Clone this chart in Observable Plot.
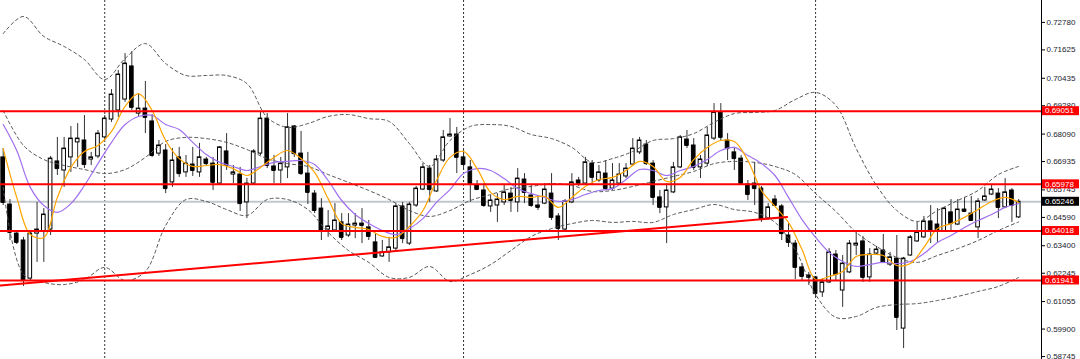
<!DOCTYPE html>
<html><head><meta charset="utf-8">
<script src="https://cdn.jsdelivr.net/npm/d3@7"></script>
<script src="https://cdn.jsdelivr.net/npm/@observablehq/plot@0.6"></script>
<style>html,body{margin:0;padding:0;background:#fff} svg{display:block}</style>
</head><body><div id="chart"></div>
<script>
// Weekly candles (price values)
const opens = [0.6711,0.6513,0.6391,0.6362,0.6202,0.6391,0.6400,0.6408,0.6694,0.6656, 0.6711,0.6774,0.6782,0.6702,0.6715,0.6795,0.6870,0.6908,0.6954,0.7093, 0.6895,0.6916,0.6862,0.6727,0.6740,0.6606,0.6711,0.6648,0.6681,0.6648, 0.6702,0.6685,0.6601,0.6736,0.6639,0.6639,0.6522,0.6601,0.6727,0.6874, 0.6673,0.6656,0.6669,0.6841,0.6727,0.6643,0.6559,0.6496,0.6408,0.6404, 0.6438,0.6383,0.6425,0.6433,0.6417,0.6354,0.6295,0.6312,0.6328,0.6505, 0.6349,0.6509,0.6576,0.6664,0.6568,0.6698,0.6799,0.6807,0.6711,0.6669, 0.6593,0.6572,0.6505,0.6509,0.6522,0.6559,0.6522,0.6618,0.6551,0.6509, 0.6517,0.6559,0.6463,0.6408,0.6522,0.6614,0.6601,0.6685,0.6614,0.6643, 0.6580,0.6601,0.6631,0.6681,0.6732,0.6765,0.6685,0.6543,0.6501,0.6564, 0.6669,0.6786,0.6761,0.6669,0.6685,0.6790,0.6900,0.6782,0.6732,0.6706, 0.6597,0.6601,0.6580,0.6454,0.6534,0.6505,0.6383,0.6349,0.6249,0.6215, 0.6207,0.6144,0.6186,0.6303,0.6152,0.6228,0.6341,0.6358,0.6207,0.6307, 0.6320,0.6261,0.6286,0.5992,0.6299,0.6358,0.6375,0.6442,0.6429,0.6400, 0.6480,0.6429,0.6492,0.6475,0.6417,0.6530,0.6555,0.6559,0.6501,0.6572, 0.6459];
const highs = [0.6748,0.6534,0.6400,0.6375,0.6400,0.6522,0.6496,0.6715,0.6795,0.6795, 0.6841,0.6853,0.6887,0.6732,0.6824,0.6887,0.6996,0.7076,0.7147,0.7156, 0.6979,0.7030,0.6891,0.6782,0.6765,0.6748,0.6753,0.6719,0.6753,0.6770, 0.6711,0.6711,0.6757,0.6811,0.6677,0.6669,0.6623,0.6744,0.6900,0.6895, 0.6719,0.6711,0.6895,0.6845,0.6820,0.6732,0.6572,0.6538,0.6488,0.6517, 0.6475,0.6475,0.6475,0.6496,0.6446,0.6391,0.6362,0.6375,0.6517,0.6522, 0.6522,0.6589,0.6685,0.6677,0.6719,0.6824,0.6874,0.6837,0.6740,0.6698, 0.6614,0.6593,0.6551,0.6559,0.6593,0.6585,0.6664,0.6643,0.6593,0.6543, 0.6601,0.6643,0.6475,0.6534,0.6643,0.6627,0.6711,0.6698,0.6677,0.6698, 0.6685,0.6685,0.6685,0.6790,0.6795,0.6782,0.6698,0.6572,0.6601,0.6690, 0.6803,0.6824,0.6790,0.6719,0.6837,0.6937,0.6937,0.6811,0.6753,0.6719, 0.6614,0.6690,0.6589,0.6517,0.6551,0.6513,0.6433,0.6362,0.6265,0.6228, 0.6211,0.6202,0.6328,0.6320,0.6299,0.6362,0.6404,0.6379,0.6328,0.6337, 0.6387,0.6312,0.6383,0.6291,0.6383,0.6438,0.6463,0.6509,0.6496,0.6501, 0.6534,0.6534,0.6543,0.6547,0.6538,0.6585,0.6593,0.6580,0.6622,0.6580, 0.6534];
const lows = [0.6509,0.6362,0.6345,0.6169,0.6198,0.6270,0.6270,0.6383,0.6635,0.6585, 0.6648,0.6669,0.6664,0.6677,0.6706,0.6782,0.6858,0.6879,0.6942,0.6908, 0.6883,0.6811,0.6711,0.6715,0.6559,0.6585,0.6627,0.6627,0.6631,0.6627, 0.6677,0.6572,0.6597,0.6656,0.6601,0.6484,0.6454,0.6593,0.6719,0.6664, 0.6601,0.6601,0.6622,0.6711,0.6635,0.6513,0.6475,0.6362,0.6375,0.6396, 0.6362,0.6375,0.6370,0.6349,0.6362,0.6286,0.6291,0.6270,0.6320,0.6349, 0.6341,0.6501,0.6572,0.6522,0.6564,0.6690,0.6795,0.6643,0.6656,0.6522, 0.6572,0.6501,0.6480,0.6438,0.6509,0.6480,0.6480,0.6517,0.6501,0.6488, 0.6513,0.6446,0.6362,0.6400,0.6517,0.6589,0.6593,0.6593,0.6606,0.6572, 0.6572,0.6593,0.6622,0.6673,0.6723,0.6677,0.6509,0.6475,0.6349,0.6559, 0.6664,0.6748,0.6656,0.6622,0.6673,0.6782,0.6782,0.6698,0.6656,0.6593, 0.6530,0.6509,0.6438,0.6446,0.6505,0.6362,0.6333,0.6198,0.6194,0.6173, 0.6123,0.6123,0.6181,0.6194,0.6081,0.6223,0.6299,0.6186,0.6186,0.6299, 0.6265,0.6253,0.5984,0.5908,0.6295,0.6354,0.6370,0.6349,0.6354,0.6396, 0.6404,0.6425,0.6480,0.6442,0.6370,0.6526,0.6551,0.6454,0.6496,0.6438, 0.6454];
const closes = [0.6522,0.6396,0.6354,0.6194,0.6391,0.6408,0.6471,0.6706,0.6664,0.6748, 0.6790,0.6790,0.6681,0.6711,0.6811,0.6874,0.6975,0.7059,0.7105,0.6921, 0.6916,0.6879,0.6719,0.6761,0.6580,0.6698,0.6643,0.6685,0.6656,0.6711, 0.6685,0.6606,0.6753,0.6677,0.6648,0.6517,0.6601,0.6736,0.6874,0.6677, 0.6656,0.6685,0.6837,0.6727,0.6643,0.6564,0.6488,0.6404,0.6421,0.6446, 0.6375,0.6429,0.6433,0.6425,0.6379,0.6291,0.6312,0.6333,0.6505,0.6370, 0.6513,0.6580,0.6669,0.6576,0.6702,0.6795,0.6807,0.6711,0.6681,0.6601, 0.6576,0.6509,0.6530,0.6534,0.6564,0.6530,0.6622,0.6564,0.6509,0.6501, 0.6576,0.6459,0.6412,0.6526,0.6606,0.6601,0.6690,0.6627,0.6648,0.6580, 0.6614,0.6639,0.6664,0.6748,0.6782,0.6685,0.6543,0.6501,0.6572,0.6669, 0.6795,0.6761,0.6669,0.6702,0.6803,0.6900,0.6795,0.6748,0.6706,0.6601, 0.6555,0.6580,0.6454,0.6501,0.6509,0.6391,0.6354,0.6249,0.6211,0.6207, 0.6139,0.6186,0.6312,0.6219,0.6265,0.6349,0.6349,0.6207,0.6303,0.6324, 0.6270,0.6291,0.6039,0.6286,0.6375,0.6396,0.6442,0.6400,0.6404,0.6496, 0.6433,0.6492,0.6484,0.6446,0.6526,0.6547,0.6576,0.6501,0.6564,0.6509, 0.65246];

// Moving averages (every 2nd bar)
const maBars = [0,2,4,6,8,10,12,14,16,18,20,22,24,26,28,30,32,34,36,38,40,42,44,46,48,50,52,54,56,58,60,62,64,66,68,70,72,74,76,78,80,82,84,86,88,90,92,94,96,98,100,102,104,106,108,110,112,114,116,118,120,122,124,126,128,130,132,134,136,138,140,142,144,146,148,150];
const maFast = [0.6748,0.6543,0.6387,0.6375,0.6543,0.6669,0.6736,0.6761,0.6820,0.6925, 0.6979,0.6908,0.6782,0.6706,0.6673,0.6677,0.6681,0.6664,0.6635,0.6669, 0.6711,0.6740,0.6706,0.6648,0.6538,0.6433,0.6417,0.6408,0.6379,0.6375, 0.6421,0.6488,0.6614,0.6711,0.6736,0.6664,0.6564,0.6534,0.6547,0.6543, 0.6547,0.6501,0.6543,0.6589,0.6618,0.6627,0.6656,0.6694,0.6673,0.6610, 0.6627,0.6702,0.6753,0.6782,0.6778,0.6698,0.6572,0.6505,0.6438,0.6324, 0.6198,0.6211,0.6232,0.6295,0.6303,0.6299,0.6257,0.6265,0.6333,0.6412, 0.6433,0.6459,0.6492,0.6526,0.6543,0.6522];
const maSlow = [0.6849,0.6740,0.6585,0.6509,0.6480,0.6517,0.6593,0.6685,0.6774,0.6849, 0.6883,0.6887,0.6849,0.6828,0.6774,0.6723,0.6690,0.6673,0.6656,0.6673, 0.6690,0.6694,0.6698,0.6681,0.6614,0.6530,0.6471,0.6433,0.6404,0.6387, 0.6412,0.6454,0.6522,0.6576,0.6643,0.6664,0.6656,0.6622,0.6580,0.6559, 0.6543,0.6526,0.6534,0.6555,0.6572,0.6580,0.6618,0.6660,0.6656,0.6635, 0.6656,0.6673,0.6702,0.6740,0.6753,0.6719,0.6685,0.6635,0.6543,0.6450, 0.6375,0.6312,0.6274,0.6253,0.6261,0.6270,0.6265,0.6274,0.6307,0.6354, 0.6383,0.6417,0.6446,0.6471,0.6501,0.6517];

// Bollinger bands (every 3rd bar)
const bbBars = [0,3,6,9,12,15,18,21,24,27,30,33,36,39,42,45,48,51,54,57,60,63,66,69,72,75,78,81,84,87,90,93,96,99,102,105,108,111,114,117,120,123,126,129,132,135,138,141,144,147,150];
const bbUpper = [0.7231,0.7303,0.7219,0.7177,0.7122,0.7038,0.7126,0.7189,0.7105,0.7055, 0.7055,0.7055,0.7021,0.6879,0.6837,0.6853,0.6883,0.6891,0.6874,0.6862, 0.6769,0.6673,0.6782,0.6841,0.6849,0.6841,0.6807,0.6790,0.6753,0.6690, 0.6706,0.6736,0.6782,0.6790,0.6811,0.6858,0.6895,0.6900,0.6908,0.6954, 0.6984,0.6929,0.6748,0.6593,0.6488,0.6442,0.6488,0.6530,0.6572,0.6639, 0.6673];
const bbMiddle = [0.6908,0.6761,0.6702,0.6677,0.6660,0.6643,0.6660,0.6711,0.6778,0.6795, 0.6790,0.6774,0.6744,0.6706,0.6685,0.6673,0.6639,0.6606,0.6572,0.6534, 0.6488,0.6463,0.6488,0.6530,0.6555,0.6580,0.6589,0.6601,0.6593,0.6568, 0.6572,0.6589,0.6610,0.6631,0.6652,0.6685,0.6694,0.6690,0.6673,0.6639, 0.6559,0.6484,0.6396,0.6337,0.6291,0.6270,0.6299,0.6328,0.6362,0.6404, 0.6440];
const bbLower = [0.6585,0.6219,0.6186,0.6177,0.6198,0.6249,0.6194,0.6232,0.6425,0.6534, 0.6526,0.6492,0.6467,0.6534,0.6534,0.6492,0.6396,0.6320,0.6270,0.6207, 0.6207,0.6253,0.6190,0.6219,0.6261,0.6320,0.6379,0.6412,0.6433,0.6446, 0.6438,0.6442,0.6438,0.6471,0.6492,0.6513,0.6492,0.6480,0.6438,0.6324, 0.6135,0.6039,0.6043,0.6081,0.6093,0.6097,0.6110,0.6127,0.6148,0.6169, 0.6207];

// Drawn objects
const levels = [0.69051, 0.65978, 0.64018, 0.61941];
const currentPrice = 0.65246;
const yearSeparators = [15, 68, 120];
const trendBars = [-0.4, 115.8];
const trendPrices = [0.6173, 0.6461];
const tickLabels = ["0.72780","0.71625","0.70435","0.69280","0.68090","0.66935","0.65745","0.64590","0.63400","0.62245","0.61055","0.59900","0.58745"];

const candles = opens.map((o, i) => ({i, open: o, high: highs[i], low: lows[i], close: closes[i]}));
const fast = maBars.map((b, k) => ({i: b, v: maFast[k]}));
const slow = maBars.map((b, k) => ({i: b, v: maSlow[k]}));
const up = bbBars.map((b, k) => ({i: b, v: bbUpper[k]}));
const mid = bbBars.map((b, k) => ({i: b, v: bbMiddle[k]}));
const lo = bbBars.map((b, k) => ({i: b, v: bbLower[k]}));
const trend = trendBars.map((b, k) => ({i: b, v: trendPrices[k]}));
const ticks = tickLabels.map(Number);

const W = 1080, H = 359, MR = 39;
const hw = 0.27;
const band = {x: "i", y: "v", stroke: "#555", strokeWidth: 1, strokeDasharray: "3,3", curve: "catmull-rom"};

const chart = Plot.plot({
  width: W, height: H,
  marginLeft: 0, marginRight: MR, marginTop: 0, marginBottom: 0,
  style: {fontFamily: "'Liberation Sans', Arial, sans-serif", fontSize: "8px", background: "#fff", overflow: "visible"},
  x: {type: "linear", domain: [-0.399, 153.37], axis: null},
  y: {domain: [0.58622, 0.7370]},
  marks: [
    Plot.ruleX(yearSeparators, {stroke: "#333", strokeDasharray: "2,2", strokeWidth: 1}),
    Plot.ruleY([currentPrice], {stroke: "#c3c7cd", strokeWidth: 2}),
    Plot.ruleX(candles, {x: "i", y1: "low", y2: "high", stroke: "#333", strokeWidth: 1}),
    Plot.rect(candles, {x1: d => d.i - hw, x2: d => d.i + hw, y1: "open", y2: "close",
      fill: d => d.close >= d.open ? "#fff" : "#000", stroke: "#000", strokeWidth: 1}),
    Plot.ruleY(candles, {x1: d => d.i - hw, x2: d => d.i + hw, y: "close", stroke: "#000", strokeWidth: 1}),
    Plot.line(up, band),
    Plot.line(mid, band),
    Plot.line(lo, band),
    Plot.line(slow, {x: "i", y: "v", stroke: "#a070f0", strokeWidth: 1.2, curve: "catmull-rom"}),
    Plot.line(fast, {x: "i", y: "v", stroke: "#ffa500", strokeWidth: 1.2, curve: "catmull-rom"}),
    Plot.ruleY(levels, {stroke: "#ff0000", strokeWidth: 2}),
    Plot.line(trend, {x: "i", y: "v", stroke: "#ff0000", strokeWidth: 2}),
    Plot.axisY(ticks, {anchor: "right", tickSize: 3, tickPadding: 2, tickFormat: d => d.toFixed(5), fill: "#1a1a2e", stroke: "#000", fontSize: 8})
  ]
});
document.getElementById("chart").appendChild(chart);

// price labels on the right axis
const ys = chart.scale("y");
const svg = d3.select(chart);
const xR = W - MR;
svg.append("line").attr("x1", xR + 0.5).attr("x2", xR + 0.5).attr("y1", 0).attr("y2", H).attr("stroke", "#000");
const g = svg.append("g").attr("font-family", "'Liberation Sans', Arial, sans-serif").attr("font-size", 8).attr("text-anchor", "start");
function tag(v, color) {
  const y = ys.apply(v);
  g.append("rect").attr("x", xR + 1).attr("y", y - 4.5).attr("width", 37).attr("height", 9).attr("fill", color);
  g.append("text").attr("x", xR + 4).attr("y", y).attr("dy", "0.34em").attr("text-anchor", "start").attr("fill", "#fff").text(v.toFixed(5));
}
levels.forEach(v => tag(v, "#ff0000"));
tag(currentPrice, "#000");
</script>
</body></html>
